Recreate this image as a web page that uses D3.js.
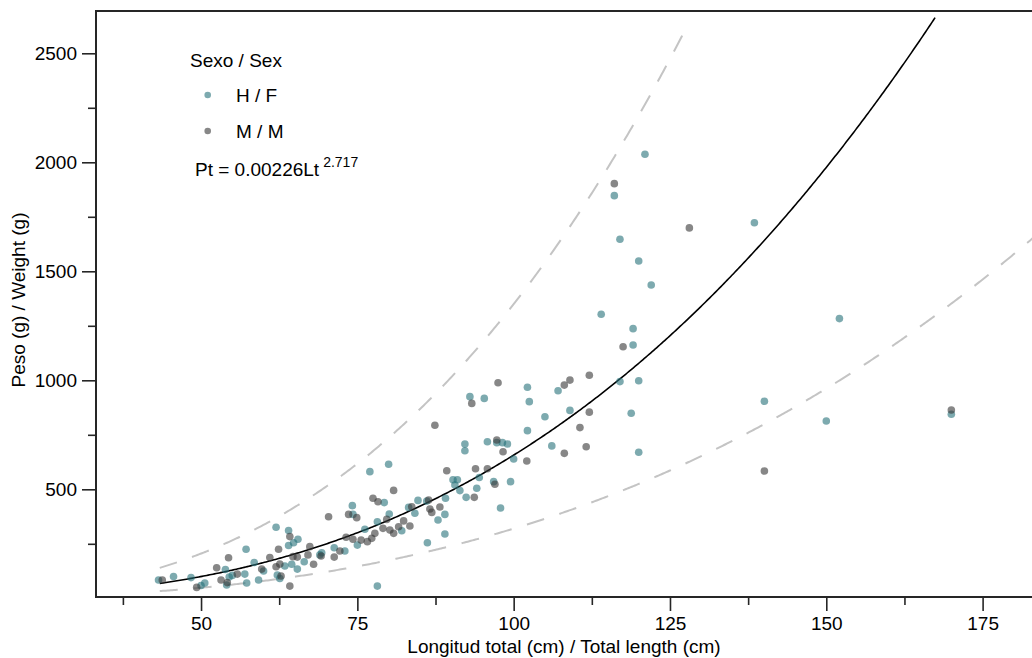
<!DOCTYPE html>
<html>
<head>
<meta charset="utf-8">
<script src="https://cdn.jsdelivr.net/npm/d3@7/dist/d3.min.js"></script>
<style>
  html, body { margin: 0; padding: 0; background: #fff; }
  svg { display: block; font-family: "Liberation Sans", Arial, Helvetica, sans-serif; }
</style>
</head>
<body>
<svg id="chart" width="1032" height="658"></svg>
<script>
// ---------- data ----------
const femaleLength = [43.2,45.6,48.4,50.0,50.6,53.9,54.1,54.5,55.0,57.0,57.2,57.3,58.5,59.2,60.0,62.0,62.2,62.6,64.0,64.0,64.8,65.5,63.4,64.5,65.4,66.5,69.0,69.3,71.3,73.0,74.2,74.3,75.0,76.2,77.0,78.2,78.2,79.3,80.0,80.1,82.1,83.2,84.2,84.7,86.1,86.2,87.9,89.0,89.1,89.0,90.3,91.0,90.6,91.4,92.4,92.2,92.2,93.0,94.1,94.5,95.3,95.8,96.8,97.3,98.2,99.0,97.9,99.5,100.0,102.2,102.5,102.2,105.0,106.1,107.1,109.0,114.0,116.1,117.0,117.0,118.8,119.1,119.1,120.0,120.0,120.0,121.0,122.0,138.5,140.1,150.0,152.1,170.0];
const femaleWeight = [84,100,95,59,70,132,61,98,105,111,225,70,164,84,125,326,107,91,311,242,255,271,148,156,134,168,199,209,232,217,425,385,244,317,581,351,56,439,615,387,310,417,390,449,446,255,359,385,459,295,544,544,520,494,463,708,677,925,505,554,917,718,535,714,714,708,414,535,639,968,902,769,833,699,952,862,1303,1847,1647,994,849,1237,1162,1547,998,670,2037,1437,1723,904,813,1283,844];
const maleLength = [43.8,49.3,52.5,53.2,54.2,54.4,55.8,59.7,61.0,62.0,62.4,62.6,62.8,64.2,64.2,64.7,65.4,67.1,67.4,68.0,69.2,70.4,71.3,72.2,73.2,73.6,74.3,74.9,75.6,76.6,77.3,77.5,78.3,77.8,79.1,79.7,80.2,80.8,80.8,81.6,82.4,83.4,83.7,86.4,86.6,86.9,87.4,88.2,89.3,93.3,93.7,93.9,95.8,97.0,97.3,97.5,98.3,102.1,108.1,109.0,108.1,110.6,111.6,112.1,112.1,116.1,117.5,128.1,140.1,170.0];
const maleWeight = [84,50,140,84,72,186,111,134,187,145,225,157,102,283,56,191,189,199,237,156,194,374,189,217,280,385,271,370,267,260,275,459,443,298,321,362,313,298,495,328,355,332,420,451,410,394,794,419,585,894,463,594,594,523,726,989,672,630,978,1001,665,783,695,1023,854,1902,1154,1699,584,864];

const xTicks = [50, 75, 100, 125, 150, 175];
const xMinorTicks = [37.5, 62.5, 87.5, 112.5, 137.5, 162.5, 187.5];
const yTicks = [500, 1000, 1500, 2000, 2500];
const yMinorTicks = [250, 750, 1250, 1750, 2250];

// fitted model  Pt = a * Lt^b  (label), drawn curve & band factors
const fitA = 0.00226, fitB = 2.717;
const fitLabel = "Pt = 0.00226Lt", fitExpLabel = "2.717";
const curveFactor = 1.07, bandLog = 0.72;
const fitLtMin = 43.4;

const legendTitle = "Sexo / Sex";
const legendLabels = ["H / F", "M / M"];
const xTitle = "Longitud total (cm) / Total length (cm)";
const yTitle = "Peso (g) / Weight (g)";

(function () {
// ---------- layout ----------
const colF = "#26717a", colM = "#373737", ptOpacity = 0.6;
const pL = 96, pR = 1032, pT = 11, pB = 597;
const svg = d3.select("#chart");
const x = d3.scaleLinear().domain([33.2, 182.9]).range([pL, pR]);
const y = d3.scaleLinear().domain([6, 2694]).range([pB, pT]);

svg.append("defs").append("clipPath").attr("id", "clip")
  .append("rect").attr("x", pL).attr("y", pT).attr("width", pR - pL + 20).attr("height", pB - pT);

const plot = svg.append("g").attr("clip-path", "url(#clip)");

function curvePts(mult, cap) {
  const pts = [];
  for (let L = fitLtMin; L <= 190; L += 0.25) {
    const w = fitA * Math.pow(L, fitB) * curveFactor * mult;
    if (w > cap) break;
    pts.push([L, w]);
  }
  return pts;
}
const line = d3.line().x(d => x(d[0])).y(d => y(d[1]));
plot.append("path").datum(curvePts(Math.exp(bandLog), 2616)).attr("d", line)
  .attr("fill", "none").attr("stroke", "#c4c4c4").attr("stroke-width", 2).attr("stroke-dasharray", "18,16");
plot.append("path").datum(curvePts(Math.exp(-bandLog), 5000)).attr("d", line)
  .attr("fill", "none").attr("stroke", "#c4c4c4").attr("stroke-width", 2).attr("stroke-dasharray", "18,16");
plot.append("path").datum(curvePts(1, 2671)).attr("d", line)
  .attr("fill", "none").attr("stroke", "#000").attr("stroke-width", 1.6);

const fData = femaleLength.map((l, i) => ({ l, w: femaleWeight[i] }));
const mData = maleLength.map((l, i) => ({ l, w: maleWeight[i] }));
plot.selectAll("circle.f").data(fData).enter().append("circle").attr("class", "f")
  .attr("cx", d => x(d.l)).attr("cy", d => y(d.w)).attr("r", 3.8)
  .attr("fill", colF).attr("fill-opacity", ptOpacity);
plot.selectAll("circle.m").data(mData).enter().append("circle").attr("class", "m")
  .attr("cx", d => x(d.l)).attr("cy", d => y(d.w)).attr("r", 3.8)
  .attr("fill", colM).attr("fill-opacity", ptOpacity);

svg.append("rect").attr("x", pL).attr("y", pT).attr("width", pR - pL + 20).attr("height", pB - pT)
  .attr("fill", "none").attr("stroke", "#262626").attr("stroke-width", 2);

const fontSize = 19;
const xAx = svg.append("g").attr("transform", `translate(0,${pB})`)
  .call(d3.axisBottom(x).tickValues(xTicks).tickSize(14).tickPadding(6).tickFormat(d3.format("d")));
const xAxMinor = svg.append("g").attr("transform", `translate(0,${pB})`)
  .call(d3.axisBottom(x).tickValues(xMinorTicks).tickSize(8).tickFormat(""));
const yAx = svg.append("g").attr("transform", `translate(${pL},0)`)
  .call(d3.axisLeft(y).tickValues(yTicks).tickSize(14).tickPadding(5).tickFormat(d3.format("d")));
const yAxMinor = svg.append("g").attr("transform", `translate(${pL},0)`)
  .call(d3.axisLeft(y).tickValues(yMinorTicks).tickSize(8).tickFormat(""));
[xAx, xAxMinor, yAx, yAxMinor].forEach(g => {
  g.select(".domain").remove();
  g.selectAll("line").attr("stroke", "#262626").attr("stroke-width", 1.6);
  g.selectAll("text").attr("font-size", fontSize).attr("fill", "#000")
    .attr("font-family", '"Liberation Sans", Arial, sans-serif');
});

svg.append("text").attr("x", (pL + pR) / 2).attr("y", 653).attr("text-anchor", "middle")
  .attr("font-size", fontSize).text(xTitle);
svg.append("text").attr("transform", "translate(25,300) rotate(-90)").attr("text-anchor", "middle")
  .attr("font-size", fontSize).text(yTitle);

svg.append("text").attr("x", 190).attr("y", 67).attr("font-size", fontSize).text(legendTitle);
[colF, colM].forEach((c, i) => {
  const cy = 95 + i * 36;
  svg.append("circle").attr("cx", 207.7).attr("cy", cy).attr("r", 3.3).attr("fill", c).attr("fill-opacity", ptOpacity);
  svg.append("text").attr("x", 236).attr("y", cy + 7).attr("font-size", fontSize).text(legendLabels[i]);
});
const ft = svg.append("text").attr("x", 195).attr("y", 176).attr("font-size", fontSize);
ft.append("tspan").text(fitLabel);
ft.append("tspan").attr("font-size", 14).attr("dx", 4).attr("dy", -9).text(fitExpLabel);
})();
</script>
</body>
</html>
